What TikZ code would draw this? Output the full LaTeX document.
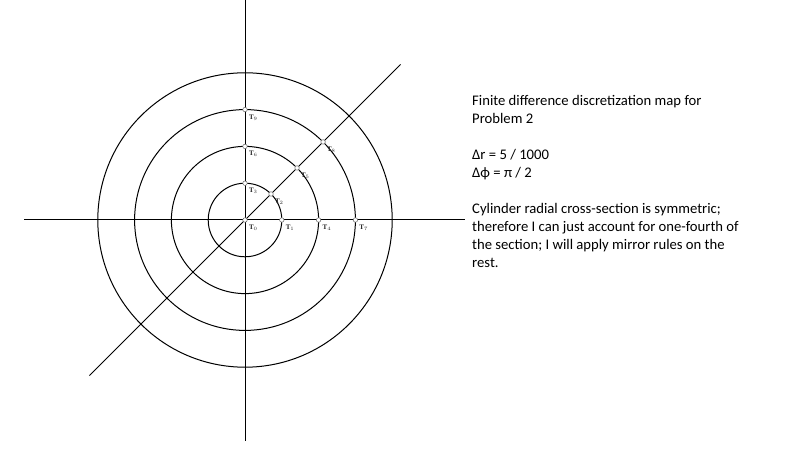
\documentclass[tikz,border=0pt]{standalone}
\usepackage{fontspec}
\setmainfont{Carlito}
\newfontfamily\labelfont{Liberation Serif}
\usetikzlibrary{calc}

\begin{document}
\begin{tikzpicture}[x=1pt,y=1pt,
    gridline/.style={line width=1pt},
    meshpt/.style={circle,draw=black!60,fill=white,inner sep=0pt,minimum size=4.5pt,line width=0.5pt},
    ptlabel/.style={font=\labelfont\bfseries\fontsize{7}{7}\selectfont,inner sep=0.3pt,text=black!85,anchor=north west},
    notes/.style={anchor=base west,inner sep=0pt,font=\fontsize{14.67}{18}\selectfont}]
    \useasboundingbox (0,0) rectangle (800,450);
    \coordinate (O) at (245,230);
    \coordinate (N) at (245,450);
    \coordinate (S) at (245,9);
    \coordinate (W) at (24,230);
    \coordinate (E) at (465,230);
    \coordinate (NE) at ($(O)+(45:220)$);
    \coordinate (SW) at ($(O)+(225:220)$);
    % axes and the diagonal
    \draw[gridline] (N) -- (S);
    \draw[gridline] (W) -- (E);
    \draw[gridline] (SW) -- (NE);
    % rings
    \foreach \r in {1,...,4} {
     \draw[gridline] (O) circle (36.8*\r);
    }
    % mesh points
    \foreach \n/\r/\a in {0/0/0,1/1/0,2/1/45,3/1/90,4/2/0,5/2/45,6/2/90,7/3/0,8/3/45,9/3/90} {
     \node[meshpt] (T\n) at ($(O)+(\a:36.8*\r)$) {};
     \node[ptlabel] (lT\n) at ($(T\n)+(3.5,-4.5)$) {T$_{\n}$};
    }
    % notes
    \foreach \i/\txt in {1/{Finite difference discretization map for},2/{Problem 2},4/{Δr = 5 / 1000},5/{Δϕ = π / 2},7/{Cylinder radial cross-section is symmetric;},8/{therefore I can just account for one-fourth of},9/{the section; I will apply mirror rules on the},10/{rest.}} {
     \node[notes] (note\i) at (472,{344.3-18*(\i-1)}) {\txt};
    }
\end{tikzpicture}
\end{document}
